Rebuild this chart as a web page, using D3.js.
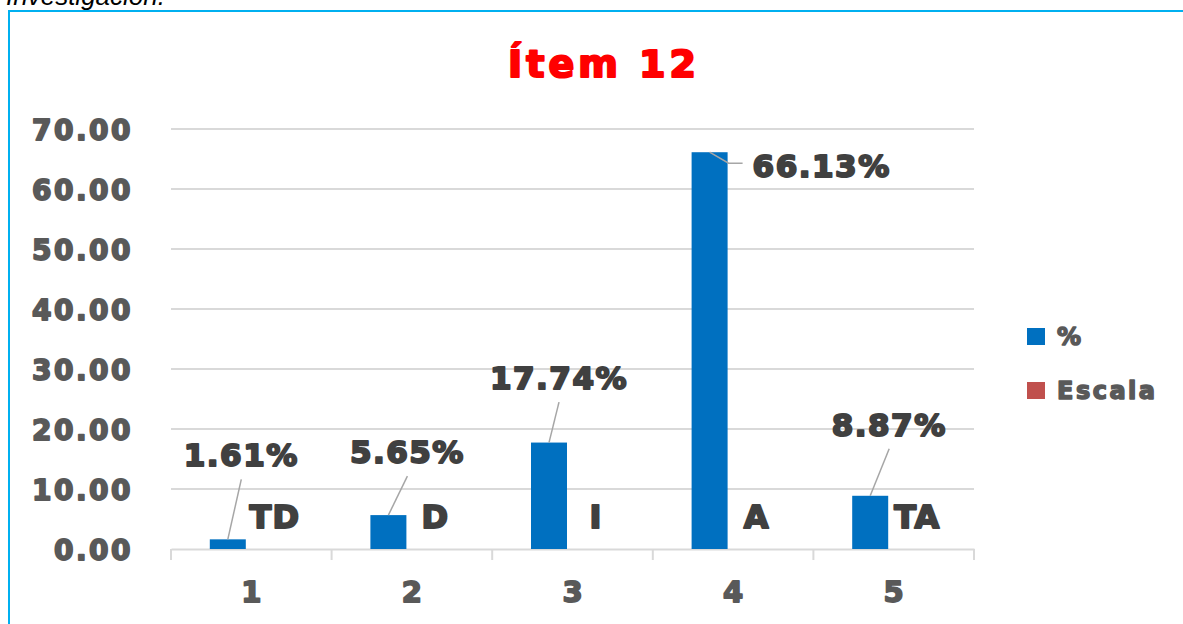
<!DOCTYPE html>
<html>
<head>
<meta charset="utf-8">
<script src="https://cdn.jsdelivr.net/npm/d3@7"></script>
<style>
  body { margin: 0; background: #fff; }
  svg { display: block; }
  text { font-family: "DejaVu Sans", sans-serif; font-weight: bold; stroke-linejoin: round; }
</style>
</head>
<body>
<svg id="chart" width="1183" height="624"></svg>
<script>
const categories = ["1", "2", "3", "4", "5"];
const percentValues = [1.61, 5.65, 17.74, 66.13, 8.87];
const scaleLabels = ["TD", "D", "I", "A", "TA"];
const yTicks = [0, 10, 20, 30, 40, 50, 60, 70];
const seriesNames = ["%", "Escala"];

// hand placed data labels (dx, dy from the bar top), like in the original
const labelOffsets = [[13.5, -73], [19, -52], [10, -53.5], [43, 25], [19, -60]];

const svg = d3.select("#chart");
const margin = { left: 171, right: 209, top: 129, bottom: 75 };
const width = 1183 - margin.left - margin.right;

// caption above the frame, cut off like in the screenshot
svg.append("text")
  .attr("x", 6)
  .attr("y", 5)
  .style("font-family", "Liberation Sans, Arial, sans-serif")
  .style("font-weight", "normal")
  .style("font-style", "italic")
  .style("font-size", "26px")
  .attr("fill", "#000")
  .text("Investigación.");

svg.append("rect")
  .attr("x", 9)
  .attr("y", 11)
  .attr("width", 1200)
  .attr("height", 700)
  .attr("fill", "none")
  .attr("stroke", "#00B0F0")
  .attr("stroke-width", 2);

svg.append("text")
  .attr("x", 604)
  .attr("y", 77)
  .attr("text-anchor", "middle")
  .attr("fill", "#FF0000")
  .attr("stroke", "#FF0000")
  .attr("stroke-width", 2.2)
  .style("font-size", "38px")
  .style("letter-spacing", "4px")
  .text("Ítem 12");

const x0 = d3.scaleBand()
  .domain(categories)
  .range([margin.left, margin.left + width]);

const x1 = d3.scaleBand()
  .domain(seriesNames)
  .range([x0.bandwidth() / 2 - 41.5, x0.bandwidth() / 2 + 41.5])
  .paddingInner(0.234);

const y = d3.scaleLinear()
  .domain([0, 70])
  .range([549, 129]);

// gridlines
svg.append("g")
  .selectAll("line")
  .data(yTicks.slice(1))
  .join("line")
  .attr("x1", margin.left)
  .attr("x2", margin.left + width)
  .attr("y1", d => y(d))
  .attr("y2", d => y(d))
  .attr("stroke", "#D9D9D9")
  .attr("stroke-width", 2);

// y axis labels
const yAxis = svg.append("g")
  .attr("transform", `translate(${margin.left}, 0)`)
  .call(d3.axisLeft(y).tickValues(yTicks).tickFormat(d3.format(".2f")).tickSize(0).tickPadding(38));
yAxis.select(".domain").remove();
yAxis.selectAll("text")
  .attr("fill", "#595959")
  .attr("stroke", "#595959")
  .attr("stroke-width", 1.8)
  .attr("dy", "0.36em")
  .style("font-family", "DejaVu Sans, sans-serif")
  .style("font-weight", "bold")
  .style("font-size", "28px")
  .style("letter-spacing", "2.5px");

// x axis with boundary ticks
const xAxis = svg.append("g")
  .attr("transform", `translate(0, ${y(0)})`)
  .call(d3.axisBottom(x0).tickSize(0).tickPadding(32));
xAxis.select(".domain").attr("stroke", "#D9D9D9").attr("stroke-width", 2);
xAxis.selectAll("text")
  .attr("fill", "#595959")
  .attr("stroke", "#595959")
  .attr("stroke-width", 1.8)
  .style("font-family", "DejaVu Sans, sans-serif")
  .style("font-weight", "bold")
  .style("font-size", "29px");
svg.append("g")
  .selectAll("line")
  .data(d3.range(categories.length + 1))
  .join("line")
  .attr("x1", i => margin.left + i * x0.step())
  .attr("x2", i => margin.left + i * x0.step())
  .attr("y1", y(0))
  .attr("y2", y(0) + 11)
  .attr("stroke", "#D9D9D9")
  .attr("stroke-width", 2);

const bars = categories.map((c, i) => ({
  cat: c,
  value: percentValues[i],
  letter: scaleLabels[i],
  off: labelOffsets[i],
  cx: x0(c) + x1("%") + x1.bandwidth() / 2,
  ex: x0(c) + x1("Escala") + x1.bandwidth() / 2,
}));

svg.append("g")
  .selectAll("rect")
  .data(bars)
  .join("rect")
  .attr("x", d => x0(d.cat) + x1("%"))
  .attr("y", d => y(d.value))
  .attr("width", x1.bandwidth())
  .attr("height", d => y(0) - y(d.value))
  .attr("fill", "#0070C0");

// leader lines
svg.append("g")
  .selectAll("path")
  .data(bars)
  .join("path")
  .attr("d", d => {
    const tx = d.cx + d.off[0];
    const ty = y(d.value) + d.off[1];
    if (d.off[1] > 0) {
      // label sits to the right, elbow connector
      return `M${d.cx},${y(d.value)} L${d.cx + 19},${ty - 14} L${tx - 10},${ty - 14}`;
    }
    return `M${tx},${ty + 13} L${d.cx},${y(d.value)}`;
  })
  .attr("fill", "none")
  .attr("stroke", "#A6A6A6")
  .attr("stroke-width", 1.5);

// value labels
svg.append("g")
  .selectAll("text")
  .data(bars)
  .join("text")
  .attr("x", d => d.cx + d.off[0])
  .attr("y", d => y(d.value) + d.off[1])
  .attr("text-anchor", d => d.off[1] > 0 ? "start" : "middle")
  .attr("fill", "#404040")
  .attr("stroke", "#404040")
  .attr("stroke-width", 2)
  .style("font-size", "31px")
  .style("letter-spacing", "1.5px")
  .text(d => d.value.toFixed(2) + "%");

// escala letters
svg.append("g")
  .selectAll("text")
  .data(bars)
  .join("text")
  .attr("x", d => d.ex)
  .attr("y", y(0) - 21)
  .attr("text-anchor", "middle")
  .attr("fill", "#404040")
  .attr("stroke", "#404040")
  .attr("stroke-width", 2)
  .style("font-size", "32px")
  .style("letter-spacing", "1px")
  .text(d => d.letter);

// legend
const legendColors = ["#0070C0", "#C0504D"];
const legend = svg.append("g")
  .selectAll("g")
  .data(seriesNames)
  .join("g")
  .attr("transform", (d, i) => `translate(1027, ${328 + i * 54})`);
legend.append("rect")
  .attr("width", 18)
  .attr("height", 17)
  .attr("fill", (d, i) => legendColors[i]);
legend.append("text")
  .attr("x", 30)
  .attr("y", 17)
  .attr("fill", "#595959")
  .attr("stroke", "#595959")
  .attr("stroke-width", 1.5)
  .style("font-size", "24px")
  .style("letter-spacing", "2.5px")
  .text(d => d);
</script>
</body>
</html>
